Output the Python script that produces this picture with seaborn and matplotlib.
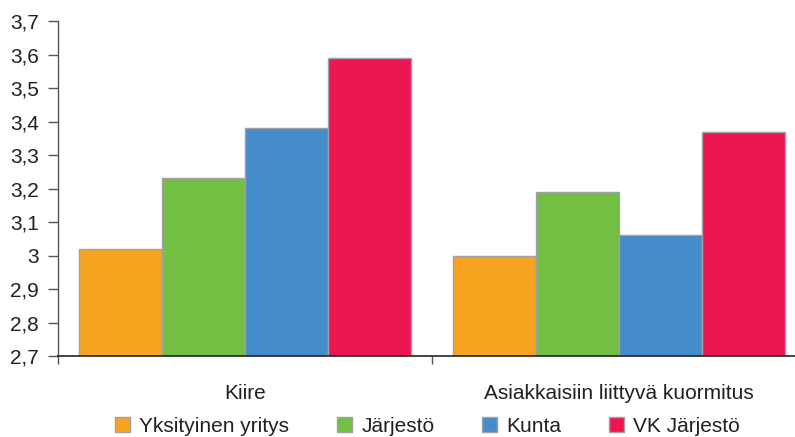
import matplotlib
matplotlib.use("Agg")
import matplotlib.pyplot as plt
import seaborn as sns
import pandas as pd
from matplotlib.patches import Patch

categories = ["Kiire", "Asiakkaisiin liittyvä kuormitus"]
series = ["Yksityinen yritys", "Järjestö", "Kunta", "VK Järjestö"]
yksityinen = [3.02, 3.00]
jarjesto = [3.23, 3.19]
kunta = [3.38, 3.06]
vk_jarjesto = [3.59, 3.37]
colors = ["#F6A31F", "#72BF44", "#448DCA", "#ED1651"]
yticks = [2.7, 2.8, 2.9, 3.0, 3.1, 3.2, 3.3, 3.4, 3.5, 3.6, 3.7]
ytick_labels = ["2,7", "2,8", "2,9", "3", "3,1", "3,2", "3,3", "3,4", "3,5", "3,6", "3,7"]

rows = []
for name, vals in zip(series, [yksityinen, jarjesto, kunta, vk_jarjesto]):
    for cat, v in zip(categories, vals):
        rows.append({"kategoria": cat, "sektori": name, "arvo": v})
df = pd.DataFrame(rows)

sns.set_theme(style="white")
plt.rcParams["font.family"] = ["Liberation Sans", "DejaVu Sans"]
text_color = "#231F20"
fs = 15

fig = plt.figure(figsize=(7.95, 4.37), dpi=100)
ax = fig.add_axes([58 / 795, 81 / 437, 748 / 795, 335 / 437])

sns.barplot(data=df, x="kategoria", y="arvo", hue="sektori", order=categories,
            hue_order=series, palette=colors, saturation=1, width=0.89, gap=0,
            edgecolor="#A0A0AA", linewidth=1, ax=ax, legend=False)

ax.set_ylim(2.7, 3.7)
ax.set_xlim(-0.5, 1.5)
ax.set_yticks(yticks)
ax.set_yticklabels(ytick_labels, fontsize=fs, color=text_color)
ax.set_xticks([-0.5, 0.5, 1.5])
ax.set_xticklabels([])
ax.set_xlabel("")
ax.set_ylabel("")
for i, cat in enumerate(categories):
    ax.text(i, 2.572, cat, ha="center", va="baseline", fontsize=fs,
            color=text_color, transform=ax.transData, clip_on=False)

ax.tick_params(axis="y", direction="out", length=7.2, width=1, color="#555555", pad=6.5, left=True)
ax.tick_params(axis="x", direction="out", length=6, width=1, color="#555555", bottom=True)
for s in ["top", "right"]:
    ax.spines[s].set_visible(False)
ax.spines["left"].set_color("#555555")
ax.spines["bottom"].set_color("#222222")
ax.spines["left"].set_linewidth(1)
ax.spines["bottom"].set_linewidth(1.2)

handles = [Patch(facecolor=c, edgecolor="#A0A0AA", label=s) for c, s in zip(colors, series)]
leg = fig.legend(handles=handles, loc="center", bbox_to_anchor=(0.538, 0.024), ncol=4,
                 frameon=False, fontsize=fs, handlelength=0.7, handleheight=0.7,
                 handletextpad=0.45, columnspacing=2.3, borderaxespad=0)
for t in leg.get_texts():
    t.set_color(text_color)

fig.savefig("out.png", dpi=100)
